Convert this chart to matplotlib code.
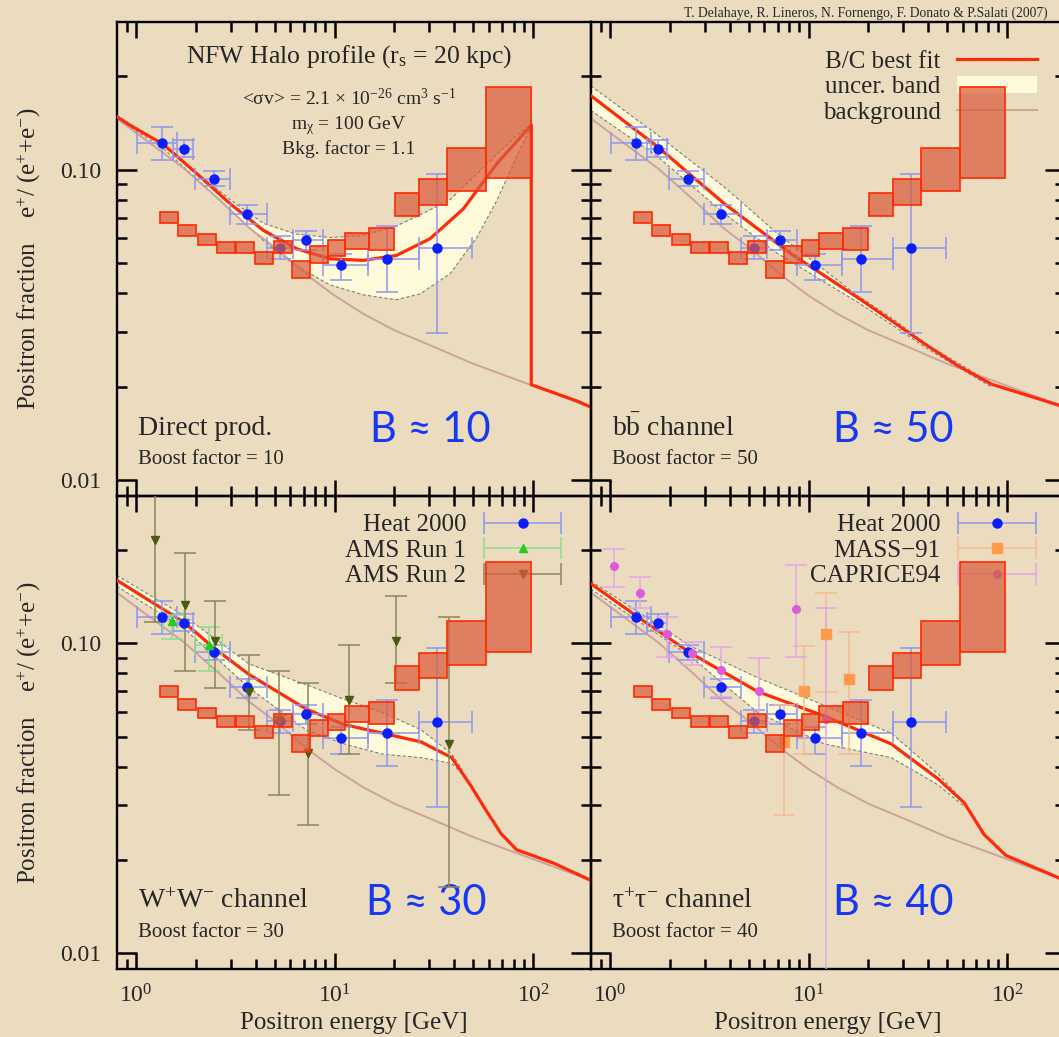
import numpy as np
import matplotlib
matplotlib.use("Agg")
import matplotlib.pyplot as plt
from matplotlib.lines import Line2D
from matplotlib.patches import Patch
from matplotlib.container import ErrorbarContainer
from matplotlib.legend_handler import HandlerErrorbar
from matplotlib.ticker import FixedLocator, FixedFormatter, NullFormatter

plt.rcParams['font.family'] = ['Liberation Serif', 'DejaVu Serif']
plt.rcParams['mathtext.fontset'] = 'custom'
plt.rcParams['mathtext.rm'] = 'Liberation Serif'
plt.rcParams['mathtext.it'] = 'Liberation Serif:italic'
plt.rcParams['mathtext.bf'] = 'Liberation Serif:bold'
plt.rcParams['mathtext.default'] = 'regular'

# ---------------- data ----------------
# PAMELA-style boxes (energy bin edges in GeV, fraction range)
box_e_lo = [1.32, 1.63, 2.05, 2.57, 3.19, 3.99, 4.96, 6.09, 7.50, 9.24, 11.34, 14.97, 20.17, 26.75, 36.88, 57.97]
box_e_hi = [1.62, 2.01, 2.52, 3.16, 3.92, 4.92, 6.09, 7.50, 9.24, 11.34, 14.97, 19.87, 26.75, 36.88, 57.97, 97.7]
box_f_lo = [0.0674, 0.0609, 0.0573, 0.0538, 0.0538, 0.0496, 0.0538, 0.0447, 0.0502, 0.0525, 0.0556, 0.0549, 0.0710, 0.0771, 0.0851, 0.0940]
box_f_hi = [0.0730, 0.0661, 0.0621, 0.0583, 0.0583, 0.0543, 0.0590, 0.0506, 0.0567, 0.0591, 0.0626, 0.0646, 0.0843, 0.0930, 0.1177, 0.1837]

# HEAT 2000
heat_E = [1.357, 1.752, 2.47, 3.61, 5.31, 7.16, 10.74, 18.32, 32.97]
heat_Elo = [1.008, 1.542, 1.98, 2.976, 4.55, 6.2, 8.72, 14.69, 26.55]
heat_Ehi = [1.603, 1.945, 2.976, 4.55, 6.2, 8.72, 14.69, 26.55, 49.1]
heat_f = [0.1219, 0.1168, 0.0935, 0.0721, 0.0560, 0.0591, 0.0494, 0.0515, 0.0559]
heat_flo = [0.1076, 0.1099, 0.0886, 0.0669, 0.0514, 0.0549, 0.0440, 0.0403, 0.0297]
heat_fhi = [0.1373, 0.1243, 0.0990, 0.0767, 0.0609, 0.0634, 0.0536, 0.0657, 0.0970]

# AMS Run 1
ams1_E = [1.52, 2.32]
ams1_Elo = [1.362, 1.987]
ams1_Ehi = [1.739, 2.71]
ams1_f = [0.1178, 0.0990]
ams1_flo = [0.103, 0.0817]
ams1_fhi = [0.1234, 0.1127]

# AMS Run 2
ams2_E = [1.247, 1.76, 2.51, 3.70, 5.28, 7.36, 11.85, 20.4, 37.7]
ams2_f = [0.215, 0.1334, 0.1016, 0.0699, 0.0566, 0.0442, 0.0655, 0.1016, 0.0474]
ams2_flo = [0.117, 0.0813, 0.0717, 0.0526, 0.0324, 0.0259, 0.0439, 0.0746, 0.0164]
ams2_fhi = [0.35, 0.196, 0.137, 0.0917, 0.0816, 0.0746, 0.099, 0.142, 0.1218]

# MASS-91
mass_E = [7.55, 9.51, 12.25, 15.9]
mass_f = [0.0481, 0.0703, 0.107, 0.0765]
mass_flo = [0.028, 0.0439, 0.0699, 0.0439]
mass_fhi = [0.0631, 0.0978, 0.145, 0.1085]

# CAPRICE94
cap_E = [1.05, 1.42, 1.94, 2.6, 3.62, 5.65, 8.65, 12.25]
cap_f = [0.178, 0.145, 0.107, 0.093, 0.0821, 0.0703, 0.1292, 0.0569]
cap_flo = [0.1525, 0.130, 0.0905, 0.085, 0.0673, 0.0554, 0.0905, 0.005]
cap_fhi = [0.2016, 0.164, 0.1218, 0.101, 0.0973, 0.0894, 0.1795, 0.130]

# secondary background
bkg_E = [0.80, 1.74, 2.65, 3.76, 5.0, 7.52, 10.0, 14.0, 20.0, 30.3, 50.0, 96.6, 195]
bkg_f = [0.146, 0.101, 0.0796, 0.0645, 0.0562, 0.045, 0.0393, 0.0343, 0.0304, 0.0272, 0.0237, 0.0203, 0.0172]

# direct production
dir_E = [0.80, 0.93, 1.373, 2.02, 2.976, 4.38, 6.44, 9.49, 13.97, 20.5, 30.3, 44.6, 65.7, 97.9, 97.9, 166, 195]
dir_f = [0.148, 0.139, 0.1205, 0.0971, 0.0777, 0.0637, 0.0556, 0.0516, 0.0510, 0.0529, 0.0599, 0.0748, 0.1045, 0.139, 0.0203, 0.0180, 0.0172]
dir_band_E = [0.80, 1.37, 2.0, 2.98, 4.4, 6.4, 9.5, 14.0, 20.5, 27.0, 38.2, 52.2, 65.7, 80.0, 97.9]
dir_band_lo = [0.146, 0.117, 0.094, 0.074, 0.059, 0.049, 0.0425, 0.0395, 0.0381, 0.0398, 0.0462, 0.0606, 0.0796, 0.105, 0.138]
dir_band_hi = [0.149, 0.121, 0.098, 0.080, 0.067, 0.062, 0.0604, 0.0614, 0.0658, 0.0715, 0.080, 0.097, 0.112, 0.126, 0.140]

# b bbar channel
bb_E = [0.80, 1.74, 3.76, 8.16, 17.7, 26.0, 38.3, 56.4, 83, 122, 195]
bb_f = [0.173, 0.1183, 0.0777, 0.0536, 0.0387, 0.0327, 0.0275, 0.0234, 0.0204, 0.0189, 0.0172]
bb_band_E = [0.80, 1.74, 3.76, 7.0, 17.7, 26, 40, 83]
bb_band_lo = [0.155, 0.110, 0.0722, 0.0536, 0.0374, 0.0318, 0.0264, 0.0200]
bb_band_hi = [0.186, 0.129, 0.0879, 0.0621, 0.0392, 0.0334, 0.0272, 0.0206]

# W+W- channel
ww_E = [0.80, 1.739, 2.48, 3.70, 7.2, 11.2, 17.5, 27.3, 38.9, 48.5, 57.8, 69.1, 82.5, 128, 195]
ww_f = [0.160, 0.1172, 0.0965, 0.0795, 0.0614, 0.0547, 0.0513, 0.0481, 0.0428, 0.0348, 0.0290, 0.0243, 0.0216, 0.0195, 0.0172]
ww_band_E = [0.80, 1.74, 3.70, 7.2, 11.2, 17.5, 27.3, 38.9, 44]
ww_band_lo = [0.153, 0.112, 0.072, 0.0526, 0.0474, 0.0439, 0.0428, 0.041, 0.038]
ww_band_hi = [0.166, 0.123, 0.0859, 0.0736, 0.066, 0.0598, 0.0526, 0.044, 0.039]

# tau+tau- channel
tau_E = [0.80, 1.379, 2.56, 5.55, 12.0, 26.1, 44.8, 60.8, 76.5, 98.6, 195]
tau_f = [0.156, 0.1218, 0.0929, 0.0699, 0.0583, 0.0474, 0.0366, 0.0306, 0.0242, 0.0207, 0.0172]
tau_band_E = [0.80, 2.56, 5.55, 12.0, 26.1, 44.8, 60]
tau_band_lo = [0.150, 0.0905, 0.0598, 0.0474, 0.0428, 0.035, 0.030]
tau_band_hi = [0.159, 0.0978, 0.0775, 0.0631, 0.0513, 0.038, 0.031]

# ---------------- style ----------------
PAPER = '#EBDCC0'
INK = '#262626'
RED = '#FF2A0A'
BAND = '#FFFBDA'
BAND_EDGE = '#7d7d7d'
BKG = '#CDA29C'
HEAT_C = '#0A1EFF'
HEAT_ERR = '#8C98F0'
AMS1_C = '#22CC22'
AMS1_ERR = '#8EDC8E'
AMS2_C = '#4B5A12'
AMS2_ERR = '#8A875A'
MASS_C = '#FF9A4A'
MASS_ERR = '#F2BC94'
CAP_C = '#DA5CDA'
CAP_ERR = '#E3A6E3'
BOX_FACE = (0.85, 0.36, 0.24, 0.72)
BOX_EDGE = '#FF2A00'
HAND = '#1638F5'

fig = plt.figure(figsize=(10.59, 10.37), dpi=100, facecolor=PAPER)
L, R0, W = 116.7 / 1059, 590.7 / 1059, 474 / 1059
axes = [fig.add_axes([L, 0.5217, W, 0.45738]),
        fig.add_axes([R0, 0.5217, W, 0.45738]),
        fig.add_axes([L, 0.06557, W, 0.45612]),
        fig.add_axes([R0, 0.06557, W, 0.45612])]


def err(v, lo, hi):
    v = np.asarray(v)
    return [v - np.asarray(lo), np.asarray(hi) - v]


def setup(ax, left, bottom):
    ax.set_facecolor('none')
    ax.set_xscale('log')
    ax.set_yscale('log')
    ax.set_xlim(0.80, 195)
    ax.set_ylim(0.0089, 0.299)
    for s in ax.spines.values():
        s.set_linewidth(1.7)
        s.set_color('black')
    ax.xaxis.set_major_locator(FixedLocator([1, 10, 100]))
    ax.xaxis.set_minor_locator(FixedLocator([0.9] + [m * d for d in (1, 10, 100) for m in range(2, 10)]))
    ax.yaxis.set_major_locator(FixedLocator([0.01, 0.1]))
    ax.yaxis.set_minor_locator(FixedLocator([m * 0.01 for m in range(2, 10)] + [0.2]))
    ax.xaxis.set_minor_formatter(NullFormatter())
    ax.yaxis.set_minor_formatter(NullFormatter())
    if bottom:
        ax.xaxis.set_major_formatter(FixedFormatter(['10$^{0}$', '10$^{1}$', '10$^{2}$']))
    else:
        ax.xaxis.set_major_formatter(NullFormatter())
    if left:
        ax.yaxis.set_major_formatter(FixedFormatter(['0.01', '0.10']))
    else:
        ax.yaxis.set_major_formatter(NullFormatter())
    ax.tick_params(which='both', direction='in', top=True, right=True, width=1.8, colors='black',
                   labelcolor=INK, labelsize=17)
    ax.tick_params(axis='x', which='major', length=11.5, pad=11)
    ax.tick_params(axis='y', which='major', length=14.5, pad=11)
    ax.tick_params(which='minor', length=7.5)
    if left:
        ax.text(-0.185, 0.5, 'Positron fraction    e$^{+}$/ (e$^{+}$+e$^{-}$)', rotation=90,
                transform=ax.transAxes, ha='center', va='center', fontsize=18, color=INK)
    if bottom:
        ax.text(0.5, -0.115, 'Positron energy [GeV]', transform=ax.transAxes,
                ha='center', va='center', fontsize=18, color=INK)


def common(ax, band_E, band_lo, band_hi, curve_E, curve_f):
    ax.fill_between(band_E, band_lo, band_hi, facecolor=BAND, edgecolor='none', zorder=1)
    ax.plot(band_E, band_lo, color=BAND_EDGE, lw=0.8, ls=(0, (3, 2)), zorder=1.5)
    ax.plot(band_E, band_hi, color=BAND_EDGE, lw=0.8, ls=(0, (3, 2)), zorder=1.5)
    ax.plot(bkg_E, bkg_f, color=BKG, lw=1.4, zorder=2)
    ax.plot(curve_E, curve_f, color=RED, lw=2.3, zorder=3)
    ax.errorbar(heat_E, heat_f, xerr=err(heat_E, heat_Elo, heat_Ehi), yerr=err(heat_f, heat_flo, heat_fhi),
                fmt='o', ms=6.5, mfc=HEAT_C, mec=HEAT_C, ecolor=HEAT_ERR, elinewidth=1.1,
                capsize=8, capthick=1.1, zorder=4)
    ax.bar(box_e_lo, np.subtract(box_f_hi, box_f_lo), width=np.subtract(box_e_hi, box_e_lo),
           bottom=box_f_lo, align='edge', facecolor=BOX_FACE, edgecolor=BOX_EDGE, linewidth=1.2, zorder=6)


def label(ax, title, boost, hand, hx):
    ax.text(0.0445, 0.143, title, transform=ax.transAxes, ha='left', va='center', fontsize=20, color=INK)
    ax.text(0.0445, 0.078, boost, transform=ax.transAxes, ha='left', va='center', fontsize=15, color=INK)
    ax.text(hx, 0.140, hand, transform=ax.transAxes, ha='center', va='center', fontsize=30,
            family=['Lato', 'DejaVu Sans'], fontweight='normal', color=HAND)


def proxy(ax, color, ecolor, marker, ms):
    return ax.errorbar([np.nan], [np.nan], xerr=[[np.nan], [np.nan]], fmt=marker, ms=ms, mfc=color,
                       mec=color, ecolor=ecolor, elinewidth=1.1, capsize=8, capthick=1.1)


LEG = dict(frameon=False, markerfirst=False, fontsize=18, handlelength=3.2, handletextpad=0.65,
           labelspacing=0.12, borderpad=0, borderaxespad=0, labelcolor=INK, loc='upper right')

ax1, ax2, ax3, ax4 = axes
setup(ax1, True, False)
setup(ax2, False, False)
setup(ax3, True, True)
setup(ax4, False, True)

# top left: direct production
common(ax1, dir_band_E, dir_band_lo, dir_band_hi, dir_E, dir_f)
ax1.text(0.49, 0.926, 'NFW Halo profile (r$_{s}$ = 20 kpc)', transform=ax1.transAxes,
         ha='center', va='center', fontsize=18.5, color=INK)
ax1.text(0.49, 0.838, '<σv> = 2.1 × 10$^{-26}$ cm$^{3}$ s$^{-1}$', transform=ax1.transAxes,
         ha='center', va='center', fontsize=14, color=INK)
ax1.text(0.49, 0.780, 'm$_{χ}$ = 100 GeV', transform=ax1.transAxes,
         ha='center', va='center', fontsize=14, color=INK)
ax1.text(0.49, 0.732, 'Bkg. factor = 1.1', transform=ax1.transAxes,
         ha='center', va='center', fontsize=14, color=INK)
label(ax1, 'Direct prod.', 'Boost factor = 10', 'B ≈ 10', 0.662)

# top right: b bbar
common(ax2, bb_band_E, bb_band_lo, bb_band_hi, bb_E, bb_f)
label(ax2, 'b$\\bar{b}$ channel', 'Boost factor = 50', 'B ≈ 50', 0.638)
leg_handles = [Line2D([], [], color=RED, lw=2.3),
               Patch(facecolor=BAND, edgecolor='none'),
               Line2D([], [], color=BKG, lw=1.4)]
ax2.legend(leg_handles, ['B/C best fit', 'uncer. band', 'background'],
           bbox_to_anchor=(0.9416, 0.94), **LEG)

# bottom left: W+W-
common(ax3, ww_band_E, ww_band_lo, ww_band_hi, ww_E, ww_f)
ax3.errorbar(ams1_E, ams1_f, xerr=err(ams1_E, ams1_Elo, ams1_Ehi), yerr=err(ams1_f, ams1_flo, ams1_fhi),
             fmt='^', ms=6, mfc=AMS1_C, mec=AMS1_C, ecolor=AMS1_ERR, elinewidth=1.1,
             capsize=8, capthick=1.1, zorder=4)
ax3.errorbar(ams2_E, ams2_f, yerr=err(ams2_f, ams2_flo, ams2_fhi),
             fmt='v', ms=6, mfc=AMS2_C, mec=AMS2_C, ecolor=AMS2_ERR, elinewidth=1.1,
             capsize=8, capthick=1.1, zorder=4)
label(ax3, 'W$^{+}$W$^{-}$ channel', 'Boost factor = 30', 'B ≈ 30', 0.654)
hm = {ErrorbarContainer: HandlerErrorbar(xerr_size=1.55)}
h = [proxy(ax3, HEAT_C, HEAT_ERR, 'o', 6.5), proxy(ax3, AMS1_C, AMS1_ERR, '^', 6),
     proxy(ax3, AMS2_C, AMS2_ERR, 'v', 6)]
ax3.legend(h, ['Heat 2000', 'AMS Run 1', 'AMS Run 2'], handler_map=hm,
           bbox_to_anchor=(0.9407, 0.962), **LEG)

# bottom right: tau+tau-
common(ax4, tau_band_E, tau_band_lo, tau_band_hi, tau_E, tau_f)
ax4.errorbar(mass_E, mass_f, yerr=err(mass_f, mass_flo, mass_fhi),
             fmt='s', ms=6.5, mfc=MASS_C, mec=MASS_C, ecolor=MASS_ERR, elinewidth=1.1,
             capsize=8, capthick=1.1, zorder=4)
ax4.errorbar(cap_E, cap_f, yerr=err(cap_f, cap_flo, cap_fhi),
             fmt='o', ms=5.5, mfc=CAP_C, mec=CAP_C, ecolor=CAP_ERR, elinewidth=1.1,
             capsize=8, capthick=1.1, zorder=4)
label(ax4, 'τ$^{+}$τ$^{-}$ channel', 'Boost factor = 40', 'B ≈ 40', 0.638)
h = [proxy(ax4, HEAT_C, HEAT_ERR, 'o', 6.5), proxy(ax4, MASS_C, MASS_ERR, 's', 6.5),
     proxy(ax4, CAP_C, CAP_ERR, 'o', 5.5)]
ax4.legend(h, ['Heat 2000', 'MASS−91', 'CAPRICE94'], handler_map=hm,
           bbox_to_anchor=(0.9416, 0.962), **LEG)

fig.text(684 / 1059, 1 - 13 / 1037, 'T. Delahaye, R. Lineros, N. Fornengo, F. Donato & P.Salati (2007)',
         ha='left', va='center', fontsize=9.8, color=INK)

fig.savefig('out.png', dpi=100, facecolor=PAPER)
